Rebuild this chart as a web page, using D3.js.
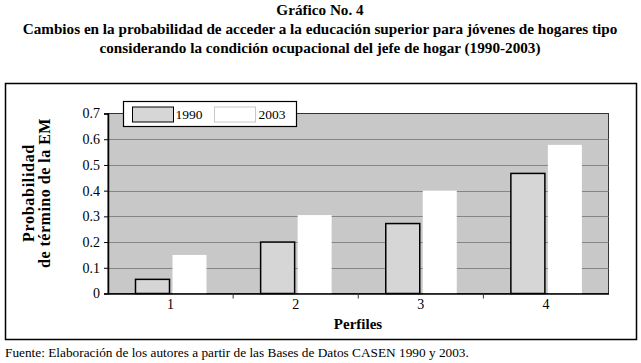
<html>
<script src="https://cdn.jsdelivr.net/npm/d3@7/dist/d3.min.js"></script>
<style>
body { margin:0; background:white; }
</style>
<body>
<div id="chart"></div>
</body>
<script>

var categories = ["1","2","3","4"]
var series = ["1990","2003"]
var values1990 = [0.055, 0.2, 0.272, 0.467]
var values2003 = [0.15, 0.305, 0.4, 0.578]
var yTicks = [0, 0.1, 0.2, 0.3, 0.4, 0.5, 0.6, 0.7]
var titleLines = ["Gráfico No. 4",
  "Cambios en la probabilidad de acceder a la educación superior para jóvenes de hogares tipo",
  "considerando la condición ocupacional del jefe de hogar (1990-2003)"]

var FONT = "'Liberation Serif', serif"
var W = 641, H = 363
var plotL = 108, plotR = 608.5, plotT = 113.5, plotB = 293.5

svg = d3.select("#chart").append("svg").attr("width",W).attr("height",H)

svg.append("g").selectAll("text").data(titleLines).enter().append("text")
	.attr("x",320).attr("y",function(d,i){ return 15 + i*19 })
	.attr("text-anchor","middle").style("font-size","15.2px").style("font-weight","bold").style("font-family",FONT)
	.text(function(d){ return d })

// outer frame
svg.append("rect").attr("x",5.5).attr("y",83.5).attr("width",631).attr("height",256)
	.attr("fill","white").attr("stroke","black").attr("stroke-width",1.5)

y = d3.scaleLinear().domain([0,0.7]).range([plotB,plotT])
x0 = d3.scaleBand().domain(categories).range([plotL,plotR])
x1 = d3.scaleBand().domain(series).range([27,99])

svg.append("rect").attr("x",plotL).attr("y",plotT).attr("width",plotR-plotL).attr("height",plotB-plotT)
	.attr("fill","#c8c8c8").attr("stroke","#333").attr("stroke-width",1)

svg.append("g").selectAll("line").data(yTicks.filter(function(d){ return d>0 && d<0.7 })).enter().append("line")
	.attr("x1",plotL).attr("x2",plotR).attr("y1",function(d){ return Math.round(y(d))+0.5 }).attr("y2",function(d){ return Math.round(y(d))+0.5 })
	.attr("stroke","#858585").attr("stroke-width",1)

var rows = categories.map(function(c,i){ return {cat:c, v:[values1990[i], values2003[i]]} })

bars = svg.append("g").selectAll("g").data(rows).enter().append("g")
	.attr("transform",function(d){ return "translate("+x0(d.cat)+",0)" })

bars.append("rect")
	.attr("x",x1("1990")+0.5).attr("width",x1.bandwidth()-2)
	.attr("y",function(d){ return y(d.v[0]) }).attr("height",function(d){ return plotB - y(d.v[0]) })
	.attr("fill","#d6d6d6").attr("stroke","black").attr("stroke-width",1.5)

bars.append("rect")
	.attr("x",x1("2003")+1.5).attr("width",x1.bandwidth()-2)
	.attr("y",function(d){ return y(d.v[1]) }).attr("height",function(d){ return plotB - y(d.v[1]) })
	.attr("fill","white")

yAxis = svg.append("g").attr("transform","translate("+plotL+",0)")
	.call(d3.axisLeft(y).tickValues(yTicks).tickSize(4).tickPadding(4).tickFormat(function(d){ return d==0 ? "0" : d3.format(".1f")(d) }))
yAxis.selectAll("text").style("font-size","14px").attr("fill","black").style("font-family",FONT)
yAxis.select(".domain").attr("stroke","black").attr("stroke-width",1.5)

xAxis = svg.append("g").attr("transform","translate(0,"+plotB+")")
	.call(d3.axisBottom(x0).tickSize(0).tickPadding(6))
xAxis.selectAll("text").style("font-size","14px").attr("fill","black").style("font-family",FONT)
xAxis.select(".domain").attr("stroke","black").attr("stroke-width",1.5)

svg.append("g").selectAll("line").data(categories.slice(1)).enter().append("line")
	.attr("x1",function(d){ return x0(d) }).attr("x2",function(d){ return x0(d) })
	.attr("y1",plotB).attr("y2",plotB+5).attr("stroke","#333")

svg.append("text").attr("x",358).attr("y",329).attr("text-anchor","middle")
	.style("font-size","15px").style("font-weight","bold").style("font-family",FONT).text("Perfiles")

ylab = svg.append("text").attr("transform","translate(34,193) rotate(-90)").attr("text-anchor","middle")
	.style("font-size","16px").style("font-family",FONT)
ylab.append("tspan").attr("x",0).attr("y",0).style("font-weight","bold").style("letter-spacing","0.7px").text("Probabilidad")
ylab.append("tspan").attr("x",0).attr("y",16).style("font-weight","bold").style("letter-spacing","0.5px").text("de término de la EM")

// legend
leg = svg.append("g").attr("transform","translate(123.5,101.5)")
leg.append("rect").attr("width",173).attr("height",25).attr("fill","white").attr("stroke","black").attr("stroke-width",1.2)
leg.selectAll(".sw").data(series).enter().append("rect").attr("class","sw")
	.attr("x",function(d,i){ return 9 + i*82 }).attr("y",5.5).attr("width",41).attr("height",15)
	.attr("fill",function(d,i){ return i==0 ? "#d6d6d6" : "white" })
	.attr("stroke",function(d,i){ return i==0 ? "black" : "#c8c8c8" })
leg.selectAll(".lt").data(series).enter().append("text").attr("class","lt")
	.attr("x",function(d,i){ return 52 + i*83 }).attr("y",17.5).style("font-size","13.5px").style("font-family",FONT)
	.text(function(d){ return d })

svg.append("text").attr("x",5).attr("y",357).style("font-size","13.3px").style("font-family",FONT)
	.text("Fuente: Elaboración de los autores a partir de las Bases de Datos CASEN 1990 y 2003.")

</script>
</html>
